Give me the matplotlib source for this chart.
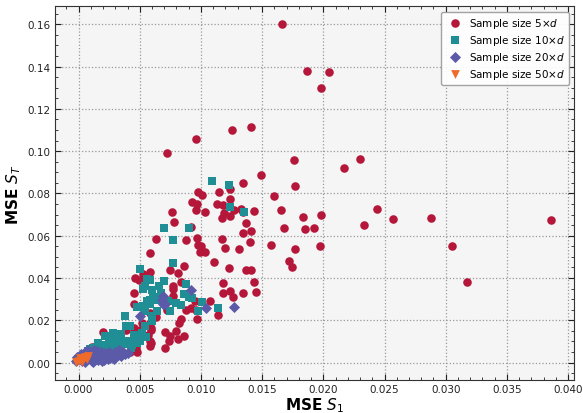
import numpy as np
import matplotlib
matplotlib.use('Agg')
import matplotlib.pyplot as plt
from matplotlib.ticker import MultipleLocator, AutoMinorLocator

# 样本量 5d
x5 = [0.0166, 0.0187, 0.0205, 0.0198, 0.0096, 0.0072, 0.0125, 0.0141, 0.0176, 0.0217,
      0.0230, 0.0177, 0.0149, 0.0134, 0.0098, 0.0115, 0.0124, 0.0093, 0.0097, 0.0113,
      0.0118, 0.0124, 0.0096, 0.0103, 0.0076, 0.0078, 0.0117, 0.0119, 0.0124, 0.0127,
      0.0133, 0.0134, 0.0143, 0.0137, 0.0134, 0.0141, 0.0140, 0.0160, 0.0165, 0.0168,
      0.0183, 0.0185, 0.0192, 0.0198, 0.0244, 0.0233, 0.0257, 0.0063, 0.0088, 0.0097,
      0.0092, 0.0117, 0.0157, 0.0177, 0.0197, 0.0131, 0.0120, 0.0098, 0.0100, 0.0288,
      0.0386, 0.0172, 0.0174, 0.0305, 0.0317, 0.0141, 0.0143, 0.0145, 0.0101, 0.0099,
      0.0103, 0.0058, 0.0111, 0.0123, 0.0137, 0.0086, 0.0075, 0.0081, 0.0058, 0.0053,
      0.0046, 0.0049, 0.0084, 0.0077, 0.0077, 0.0118, 0.0118, 0.0124, 0.0134, 0.0126,
      0.0045, 0.0045, 0.0077, 0.0107, 0.0092, 0.0072, 0.0114, 0.0084, 0.0097, 0.0082,
      0.0095, 0.0020, 0.0046, 0.0050, 0.0035, 0.0071, 0.0058, 0.0047, 0.0042, 0.0048,
      0.0011, 0.0058, 0.0039, 0.0052, 0.0058, 0.0063, 0.0058, 0.0059, 0.0057, 0.0045,
      0.0031, 0.0033, 0.0027, 0.0096, 0.0088, 0.0081, 0.0086, 0.0080, 0.0075, 0.0074,
      0.0071, 0.0050, 0.0059, 0.0059]
y5 = [0.1603, 0.1379, 0.1376, 0.1300, 0.1056, 0.0991, 0.1101, 0.1112, 0.0960, 0.0922,
      0.0961, 0.0835, 0.0888, 0.0851, 0.0808, 0.0806, 0.0819, 0.0761, 0.0749, 0.0751,
      0.0743, 0.0772, 0.0721, 0.0713, 0.0712, 0.0664, 0.0685, 0.0709, 0.0693, 0.0720,
      0.0724, 0.0712, 0.0715, 0.0658, 0.0614, 0.0623, 0.0570, 0.0786, 0.0720, 0.0634,
      0.0688, 0.0630, 0.0634, 0.0699, 0.0724, 0.0650, 0.0677, 0.0582, 0.0581, 0.0589,
      0.0639, 0.0582, 0.0554, 0.0535, 0.0549, 0.0537, 0.0541, 0.0554, 0.0551, 0.0685,
      0.0674, 0.0478, 0.0451, 0.0551, 0.0383, 0.0436, 0.0383, 0.0333, 0.0793, 0.0524,
      0.0524, 0.0517, 0.0477, 0.0448, 0.0439, 0.0458, 0.0439, 0.0423, 0.0429, 0.0420,
      0.0401, 0.0388, 0.0380, 0.0363, 0.0346, 0.0374, 0.0331, 0.0338, 0.0331, 0.0312,
      0.0330, 0.0275, 0.0317, 0.0293, 0.0256, 0.0248, 0.0227, 0.0208, 0.0204, 0.0185,
      0.0290, 0.0144, 0.0125, 0.0128, 0.0112, 0.0144, 0.0101, 0.0071, 0.0052, 0.0052,
      0.0074, 0.0077, 0.0156, 0.0186, 0.0188, 0.0214, 0.0235, 0.0153, 0.0128, 0.0164,
      0.0136, 0.0096, 0.0109, 0.0248, 0.0247, 0.0109, 0.0125, 0.0148, 0.0125, 0.0101,
      0.0071, 0.0156, 0.0164, 0.0091]

# 样本量 10d
x10 = [0.0109, 0.0123, 0.0124, 0.0135, 0.0070, 0.0090, 0.0077, 0.0077, 0.0050, 0.0058,
       0.0070, 0.0066, 0.0053, 0.0060, 0.0088, 0.0086, 0.0090, 0.0093, 0.0061, 0.0064,
       0.0056, 0.0073, 0.0080, 0.0084, 0.0101, 0.0098, 0.0114, 0.0048, 0.0054, 0.0064,
       0.0060, 0.0038, 0.0040, 0.0028, 0.0035, 0.0022, 0.0016, 0.0031, 0.0034, 0.0043,
       0.0039, 0.0026, 0.0018, 0.0009, 0.0023, 0.0048, 0.0050,
       0.0039, 0.0028, 0.0054, 0.0060, 0.0054, 0.0056, 0.0054, 0.0058, 0.0064, 0.0053,
       0.0067, 0.0075, 0.0042, 0.0058, 0.0060, 0.0008, 0.0012, 0.0015, 0.0020,
       0.0022, 0.0025, 0.0030, 0.0032, 0.0035, 0.0038, 0.0043, 0.0045, 0.0048, 0.0052,
       0.0055, 0.0017, 0.0044]
y10 = [0.0860, 0.0838, 0.0735, 0.0712, 0.0638, 0.0634, 0.0578, 0.0470, 0.0443, 0.0388,
       0.0385, 0.0361, 0.0346, 0.0342, 0.0371, 0.0322, 0.0309, 0.0304, 0.0311, 0.0295,
       0.0290, 0.0290, 0.0283, 0.0273, 0.0285, 0.0243, 0.0259, 0.0264, 0.0248, 0.0245,
       0.0199, 0.0219, 0.0175, 0.0131, 0.0137, 0.0125, 0.0093, 0.0096, 0.0070, 0.0070,
       0.0101, 0.0101, 0.0077, 0.0062, 0.0062, 0.0093, 0.0104,
       0.0173, 0.0141, 0.0243, 0.0195, 0.0172, 0.0393, 0.0363, 0.0298, 0.0306, 0.0268,
       0.0330, 0.0243, 0.0172, 0.0275, 0.0219, 0.0055, 0.0070, 0.0075, 0.0070,
       0.0085, 0.0090, 0.0080, 0.0105, 0.0110, 0.0090, 0.0100, 0.0130, 0.0115, 0.0140,
       0.0120, 0.0065, 0.0085]

# 样本量 20d
x20 = [0.0092, 0.0069, 0.0069, 0.0104, 0.0127, 0.0050, 0.0068, 0.0071,
       -0.0002, 0.0000, 0.0001, 0.0002, 0.0003, 0.0004, 0.0005, 0.0006, 0.0007, 0.0008,
       0.0009, 0.0010, 0.0011, 0.0012, 0.0013, 0.0014, 0.0015, 0.0016, 0.0017, 0.0018,
       0.0019, 0.0020, 0.0021, 0.0022, 0.0023, 0.0024, 0.0025, 0.0026, 0.0027, 0.0028,
       0.0030, 0.0032, 0.0034, 0.0003, 0.0008, 0.0012, 0.0005, -0.0001, 0.0015, 0.0019,
       0.0036, 0.0038, 0.0033, 0.0030, 0.0035, 0.0025, 0.0040, 0.0029]
y20 = [0.0342, 0.0314, 0.0276, 0.0260, 0.0262, 0.0219, 0.0297, 0.0275,
       0.0005, 0.0015, 0.0030, 0.0042, 0.0008, 0.0025, 0.0050, 0.0012, 0.0035, 0.0058,
       0.0020, 0.0045, 0.0008, 0.0030, 0.0060, 0.0018, 0.0042, 0.0010, 0.0028, 0.0052,
       0.0020, 0.0035, 0.0012, 0.0045, 0.0025, 0.0015, 0.0038, 0.0022, 0.0030, 0.0040,
       0.0028, 0.0035, 0.0045, 0.0018, 0.0026, 0.0004, 0.0002, 0.0025, 0.0055, 0.0005,
       0.0050, 0.0040, 0.0058, 0.0050, 0.0030, 0.0050, 0.0045, 0.0015]

# 样本量 50d
x50 = [0.0000, 0.0002, 0.0004, 0.0006, 0.0008, 0.0003, 0.0001, 0.0005, 0.0007, -0.0002]
y50 = [0.0008, 0.0012, 0.0016, 0.0022, 0.0030, 0.0004, 0.0020, 0.0028, 0.0018, 0.0002]

fig = plt.figure(figsize=(5.83, 4.14), dpi=100)
ax = fig.add_axes([0.094, 0.08, 0.891, 0.902])
ax.set_facecolor('#f5f5f5')

ax.scatter(x5, y5, s=38, marker='o', color='#b5173a', linewidths=0, label='Sample size 5$\\times d$', zorder=3)
ax.scatter(x10, y10, s=34, marker='s', color='#1f8e95', linewidths=0, label='Sample size 10$\\times d$', zorder=3)
ax.scatter(x20, y20, s=32, marker='D', color='#5b5aa9', linewidths=0, label='Sample size 20$\\times d$', zorder=3)
ax.scatter(x50, y50, s=40, marker='v', color='#f06a2a', linewidths=0, label='Sample size 50$\\times d$', zorder=3)

ax.set_xlim(-0.00194, 0.0405)
ax.set_ylim(-0.0082, 0.1684)
ax.xaxis.set_major_locator(MultipleLocator(0.005))
ax.yaxis.set_major_locator(MultipleLocator(0.02))
ax.xaxis.set_minor_locator(AutoMinorLocator(5))
ax.yaxis.set_minor_locator(AutoMinorLocator(4))
ax.xaxis.set_major_formatter(matplotlib.ticker.FormatStrFormatter('%.3f'))
ax.yaxis.set_major_formatter(matplotlib.ticker.FormatStrFormatter('%.2f'))
ax.tick_params(which='both', direction='in', top=True, right=True, labelsize=7.5,
               colors='#222222', pad=3)
ax.tick_params(which='major', length=4)
ax.tick_params(which='minor', length=2)
ax.grid(True, which='major', linestyle=':', color='#999999', linewidth=0.9, zorder=0)
ax.set_axisbelow(True)
for sp in ax.spines.values():
    sp.set_color('#333333')

ax.set_xlabel('MSE $S_1$', fontsize=11, fontweight='bold', labelpad=1)
ax.set_ylabel('MSE $S_T$', fontsize=11, fontweight='bold', labelpad=3)

leg = ax.legend(loc='upper right', fontsize=7.5, frameon=True, fancybox=True, framealpha=0.9,
                handletextpad=0.3, borderpad=0.4, labelspacing=0.3)
leg.get_frame().set_edgecolor('#999999')

plt.savefig('out.png', dpi=100)
